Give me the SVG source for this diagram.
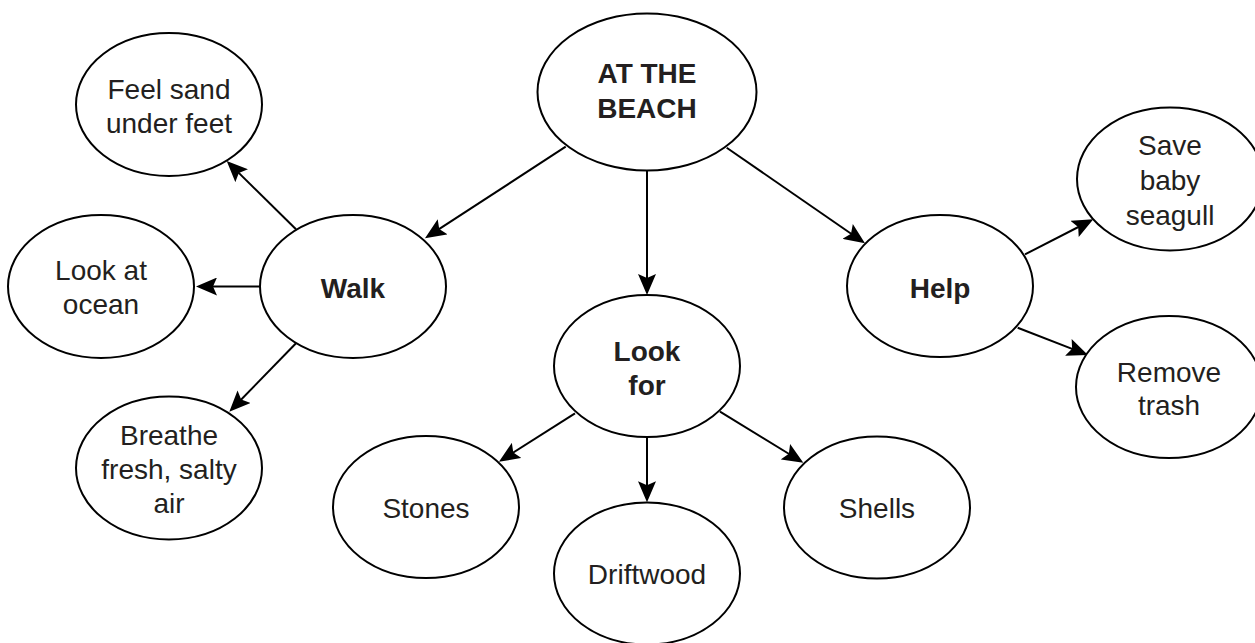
<svg xmlns="http://www.w3.org/2000/svg" width="1255" height="643" viewBox="0 0 1255 643">
<style>
.node ellipse{fill:#fff;stroke:#000;stroke-width:2}
.node text{font-family:"Liberation Sans",Arial,sans-serif;font-size:28px;fill:#231f20;text-anchor:middle}
.node text.b{font-weight:bold}
#connectors line{stroke:#000;stroke-width:2;fill:none;marker-end:url(#arrow)}
</style>
<defs>
<marker id="arrow" viewBox="0 0 21 18" refX="13" refY="9" markerUnits="userSpaceOnUse" markerWidth="21" markerHeight="18" orient="auto">
<path d="M0,0 L21,9 L0,18 L4,9 Z" fill="#000"/>
</marker>
</defs>
<rect width="1255" height="643" fill="#fff"/>
<g id="connectors">
<line x1="565.7" y1="146.7" x2="431.7" y2="233.9"/>
<line x1="647" y1="170.7" x2="647" y2="287"/>
<line x1="726.7" y1="147.7" x2="858.4" y2="238.8"/>
<line x1="296" y1="229.3" x2="232.4" y2="166.6"/>
<line x1="260" y1="286.5" x2="204" y2="286.5"/>
<line x1="296" y1="343.3" x2="234.9" y2="406"/>
<line x1="575" y1="413.3" x2="505.7" y2="457.4"/>
<line x1="647" y1="436.7" x2="647" y2="494.3"/>
<line x1="720" y1="411.7" x2="796.5" y2="458.5"/>
<line x1="1025" y1="254.3" x2="1086.2" y2="223"/>
<line x1="1017.7" y1="327.7" x2="1080.5" y2="352.1"/>
</g>
<g id="beach" class="node"><ellipse cx="647" cy="92" rx="109.5" ry="78.5"/><text class="b" x="647" y="82.5">AT THE</text><text class="b" x="647" y="117.5">BEACH</text></g>
<g id="walk" class="node"><ellipse cx="353" cy="286.5" rx="93" ry="71.5"/><text class="b" x="353" y="298">Walk</text></g>
<g id="feel" class="node"><ellipse cx="169" cy="104.5" rx="93" ry="71.5"/><text x="169" y="99">Feel sand</text><text x="169" y="133">under feet</text></g>
<g id="ocean" class="node"><ellipse cx="101" cy="286.5" rx="93" ry="71.5"/><text x="101" y="279.5">Look at</text><text x="101" y="314">ocean</text></g>
<g id="breathe" class="node"><ellipse cx="169" cy="468" rx="93" ry="71.5"/><text x="169" y="445">Breathe</text><text x="169" y="479">fresh, salty</text><text x="169" y="513">air</text></g>
<g id="lookfor" class="node"><ellipse cx="647" cy="366" rx="93" ry="71"/><text class="b" x="647" y="361">Look</text><text class="b" x="647" y="395">for</text></g>
<g id="stones" class="node"><ellipse cx="426" cy="507" rx="93" ry="71"/><text x="426" y="518">Stones</text></g>
<g id="driftwood" class="node"><ellipse cx="647" cy="573.5" rx="93" ry="71"/><text x="647" y="583.5">Driftwood</text></g>
<g id="shells" class="node"><ellipse cx="877" cy="507.5" rx="93" ry="71"/><text x="877" y="518">Shells</text></g>
<g id="help" class="node"><ellipse cx="940" cy="286" rx="93" ry="71"/><text class="b" x="940" y="298">Help</text></g>
<g id="save" class="node"><ellipse cx="1170" cy="179" rx="93" ry="71.5"/><text x="1170" y="155">Save</text><text x="1170" y="190">baby</text><text x="1170" y="225">seagull</text></g>
<g id="remove" class="node"><ellipse cx="1169" cy="387" rx="93" ry="71"/><text x="1169" y="382">Remove</text><text x="1169" y="415">trash</text></g>
</svg>
